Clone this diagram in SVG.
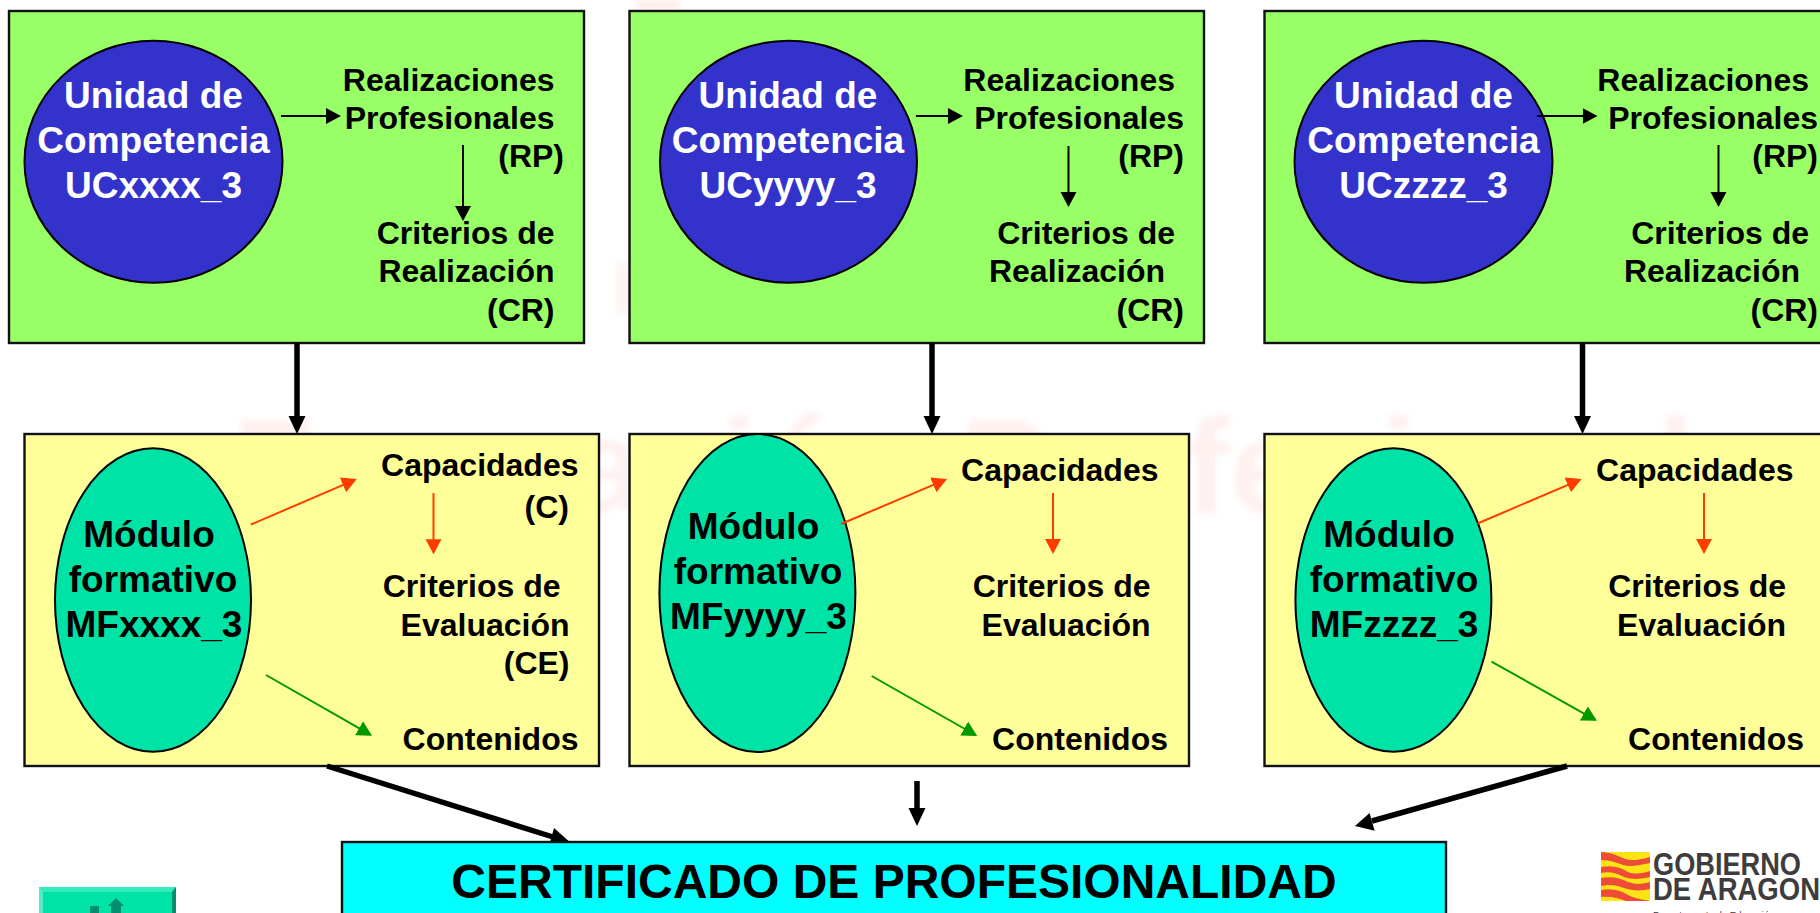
<svg xmlns="http://www.w3.org/2000/svg" width="1820" height="913" viewBox="0 0 1820 913">
<style>
text{font-family:"Liberation Sans",Arial,sans-serif;font-weight:700;fill:#000}
.box{stroke:#111;stroke-width:2.4}
.uc{fill:#99FF66}.mf{fill:#FFFF99}
.big{font-size:37px;text-anchor:middle}
.w{fill:#fff}
.s{font-size:32px;text-anchor:end}
.oval{stroke:#000;stroke-width:2}
.blue{fill:#3333CC}.teal{fill:#00E3A6}
.thin{fill:none;stroke-width:2}
.k{stroke:#000}.r{stroke:#FF3C00}.g{stroke:#009900}
.thick{stroke:#000;stroke-width:5.5;fill:none}
</style>
<defs>
<marker id="hk" markerUnits="userSpaceOnUse" markerWidth="16" markerHeight="17" refX="13" refY="8" orient="auto"><path d="M0 0L15 8L0 16z" fill="#000"/></marker>
<marker id="hr" markerUnits="userSpaceOnUse" markerWidth="16" markerHeight="17" refX="13" refY="8" orient="auto"><path d="M0 0L15 8L0 16z" fill="#FF3C00"/></marker>
<marker id="hg" markerUnits="userSpaceOnUse" markerWidth="16" markerHeight="17" refX="13" refY="8" orient="auto"><path d="M0 0L15 8L0 16z" fill="#009900"/></marker>
<filter id="soft" x="-5%" y="-5%" width="110%" height="110%"><feGaussianBlur stdDeviation="3"/></filter>
</defs>
<g id="watermark" filter="url(#soft)">
<text x="232" y="513" style="font-size:135px;fill:#fef1f0">Formación Profesional</text>
<rect x="637" y="0" width="43" height="10" fill="#feeee8"/>
<rect x="616" y="262" width="14" height="52" fill="#fef3f3"/>
</g>
<g id="uc1">
<rect class="box uc" x="9" y="11" width="575" height="332"/>
<ellipse class="oval blue" cx="153.5" cy="161.7" rx="129" ry="121"/>
<text class="big w" x="153.5" y="108">Unidad de</text>
<text class="big w" x="153.5" y="153">Competencia</text>
<text class="big w" x="153.5" y="198">UCxxxx_3</text>
<text class="s" x="554.5" y="91">Realizaciones</text>
<text class="s" x="554.5" y="129">Profesionales</text>
<text class="s" x="564" y="167">(RP)</text>
<text class="s" x="554.5" y="244">Criterios de</text>
<text class="s" x="554.5" y="282">Realización</text>
<text class="s" x="554.5" y="320.5">(CR)</text>
</g>
<g id="uc2">
<rect class="box uc" x="629.5" y="11" width="574.5" height="332"/>
<ellipse class="oval blue" cx="788.5" cy="161.7" rx="128.5" ry="121"/>
<text class="big w" x="788" y="108">Unidad de</text>
<text class="big w" x="788" y="153">Competencia</text>
<text class="big w" x="788" y="198">UCyyyy_3</text>
<text class="s" x="1175" y="91">Realizaciones</text>
<text class="s" x="1184" y="129">Profesionales</text>
<text class="s" x="1184" y="167">(RP)</text>
<text class="s" x="1175" y="244">Criterios de</text>
<text class="s" x="1165" y="282">Realización</text>
<text class="s" x="1184" y="320.5">(CR)</text>
</g>
<g id="uc3">
<rect class="box uc" x="1264.5" y="11" width="580" height="332"/>
<ellipse class="oval blue" cx="1423.5" cy="161.7" rx="129" ry="121"/>
<text class="big w" x="1423.5" y="108">Unidad de</text>
<text class="big w" x="1423.5" y="153">Competencia</text>
<text class="big w" x="1423.5" y="198">UCzzzz_3</text>
<text class="s" x="1809" y="91">Realizaciones</text>
<text class="s" x="1818" y="129">Profesionales</text>
<text class="s" x="1818" y="167">(RP)</text>
<text class="s" x="1809" y="244">Criterios de</text>
<text class="s" x="1800" y="282">Realización</text>
<text class="s" x="1818" y="320.5">(CR)</text>
</g>
<g id="mf1">
<rect class="box mf" x="24.5" y="434" width="574.5" height="332"/>
<ellipse class="oval teal" cx="153" cy="600" rx="98" ry="151.7"/>
<text class="big" x="149" y="547">Módulo</text>
<text class="big" x="153" y="592">formativo</text>
<text class="big" x="154" y="637">MFxxxx_3</text>
<text class="s" x="578.5" y="476">Capacidades</text>
<text class="s" x="569" y="518">(C)</text>
<text class="s" x="560.5" y="597">Criterios de</text>
<text class="s" x="569.5" y="636">Evaluación</text>
<text class="s" x="569.5" y="674">(CE)</text>
<text class="s" x="578.5" y="750">Contenidos</text>
</g>
<g id="mf2">
<rect class="box mf" x="629.5" y="434" width="559.5" height="332"/>
<ellipse class="oval teal" cx="757.4" cy="593" rx="98" ry="159"/>
<text class="big" x="753.5" y="539">Módulo</text>
<text class="big" x="758" y="584">formativo</text>
<text class="big" x="758.5" y="629">MFyyyy_3</text>
<text class="s" x="1158.5" y="481">Capacidades</text>
<text class="s" x="1150.5" y="597">Criterios de</text>
<text class="s" x="1150.5" y="636">Evaluación</text>
<text class="s" x="1168" y="750">Contenidos</text>
</g>
<g id="mf3">
<rect class="box mf" x="1264.5" y="434" width="580" height="332"/>
<ellipse class="oval teal" cx="1393.4" cy="600" rx="98" ry="151.7"/>
<text class="big" x="1389" y="547">Módulo</text>
<text class="big" x="1394" y="592">formativo</text>
<text class="big" x="1394" y="637">MFzzzz_3</text>
<text class="s" x="1793.5" y="481">Capacidades</text>
<text class="s" x="1786" y="597">Criterios de</text>
<text class="s" x="1786" y="636">Evaluación</text>
<text class="s" x="1804" y="750">Contenidos</text>
</g>
<g id="connectors">
<line class="thin k" x1="281" y1="116" x2="339" y2="116" marker-end="url(#hk)"/>
<line class="thin k" x1="463" y1="145" x2="463" y2="219" marker-end="url(#hk)"/>
<line class="thin k" x1="916" y1="116" x2="961" y2="116" marker-end="url(#hk)"/>
<line class="thin k" x1="1068.5" y1="146" x2="1068.5" y2="205" marker-end="url(#hk)"/>
<line class="thin k" x1="1537" y1="116" x2="1595.5" y2="116" marker-end="url(#hk)"/>
<line class="thin k" x1="1718.5" y1="145" x2="1718.5" y2="205" marker-end="url(#hk)"/>
<line class="thin r" x1="250.7" y1="524.7" x2="354.9" y2="479.8" marker-end="url(#hr)"/>
<line class="thin r" x1="433.5" y1="493" x2="433.5" y2="552.3" marker-end="url(#hr)"/>
<line class="thin g" x1="266" y1="675" x2="370.3" y2="734.7" marker-end="url(#hg)"/>
<line class="thin r" x1="841" y1="524" x2="945.2" y2="479.8" marker-end="url(#hr)"/>
<line class="thin r" x1="1053" y1="493" x2="1053" y2="552" marker-end="url(#hr)"/>
<line class="thin g" x1="871.7" y1="676" x2="975.5" y2="735" marker-end="url(#hg)"/>
<line class="thin r" x1="1477.6" y1="523.5" x2="1579.7" y2="479.8" marker-end="url(#hr)"/>
<line class="thin r" x1="1704" y1="493" x2="1704" y2="552" marker-end="url(#hr)"/>
<line class="thin g" x1="1491.5" y1="661.6" x2="1595.2" y2="719.8" marker-end="url(#hg)"/>
<line class="thick" x1="297" y1="343" x2="297" y2="417"/>
<path d="M288.5 416H305.5L297 434z"/>
<line class="thick" x1="932" y1="343" x2="932" y2="417"/>
<path d="M923.5 416H940.5L932 434z"/>
<line class="thick" x1="1582.5" y1="343" x2="1582.5" y2="417"/>
<path d="M1574 416H1591L1582.5 434z"/>
<line class="thick" x1="327" y1="766" x2="553" y2="837"/>
<path d="M554 828L549 846L572 844z"/>
<line class="thick" x1="917" y1="781" x2="917" y2="809"/>
<path d="M908.5 808H925.5L917 826z"/>
<line class="thick" x1="1567" y1="766" x2="1372" y2="821"/>
<path d="M1369.6 813L1374.6 830.7L1355 826z"/>
</g>
<g id="certificado">
<rect x="342" y="842" width="1104" height="90" fill="#00FFFF" stroke="#111" stroke-width="2.4"/>
<text x="894" y="898" style="font-size:48px;text-anchor:middle">CERTIFICADO DE PROFESIONALIDAD</text>
</g>
<g id="button">
<rect x="39" y="887" width="137" height="30" fill="#00E3A6"/>
<path d="M39 887H176L172 892H43z" fill="#33EBBB"/>
<path d="M39 887L43 892V917H39z" fill="#55EEC4"/>
<path d="M176 887L172 892V917H176z" fill="#008F6A"/>
<rect x="90" y="906" width="9" height="10" fill="#008F6A"/>
<path d="M116 898L124 906H121V916H111V906H108z" fill="#008F6A"/>
</g>
<g id="logo">
<rect x="1601" y="852" width="49" height="49" fill="#FBE414"/>
<path d="M1601 852C1618 853 1622 860 1632 860C1640 860 1645 858 1650 857V863C1640 865 1636 866 1630 866C1620 866 1616 860 1601 860z" fill="#EE4B38"/>
<path d="M1601 867C1612 865 1620 867 1628 872C1636 875 1643 873 1650 871V877C1642 879 1632 880 1624 877C1616 873 1610 871 1601 873z" fill="#EE4B38"/>
<path d="M1601 878C1612 876 1620 878 1628 882C1636 885 1643 884 1650 882V889C1642 891 1632 891 1624 888C1616 885 1610 884 1601 886z" fill="#EE4B38"/>
<path d="M1601 890C1612 888 1620 890 1628 895C1634 898 1640 899 1650 901H1626C1618 898 1610 896 1601 897z" fill="#EE4B38"/>
<text x="1653" y="875" textLength="148" lengthAdjust="spacingAndGlyphs" style="font-size:31.5px;fill:#3e3c3c">GOBIERNO</text>
<text x="1653" y="900" textLength="167" lengthAdjust="spacingAndGlyphs" style="font-size:31.5px;fill:#3e3c3c">DE ARAGON</text>
<text x="1653" y="918" style="font-size:9.6px;font-weight:400;fill:#3e3c3c">Departamento de Educación</text>
</g>
</svg>
